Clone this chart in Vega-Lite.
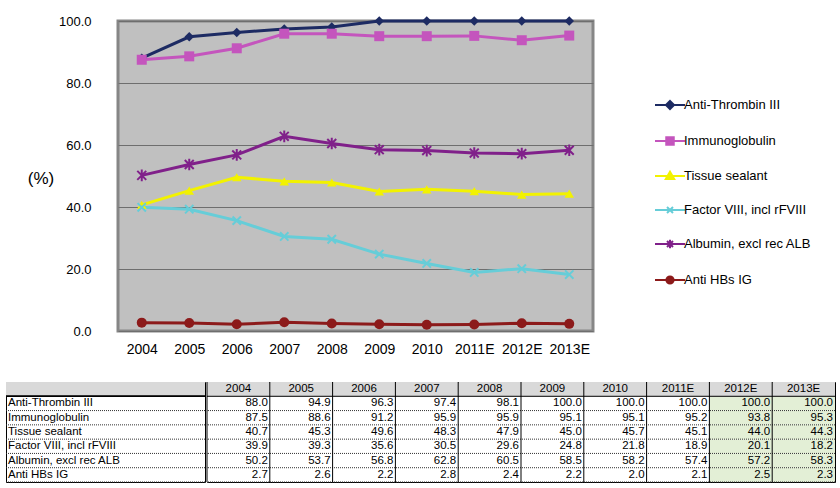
{
  "$schema": "https://vega.github.io/schema/vega-lite/v6.json",
  "padding": {"left": 5, "top": 13, "right": 0, "bottom": 0},
  "background": "white",
  "config": {"font": "Liberation Sans", "concat": {"spacing": 0}},
  "datasets": {
    "main": [
      {"series": "Anti-Thrombin III", "year": "2004", "value": 88.0},
      {"series": "Anti-Thrombin III", "year": "2005", "value": 94.9},
      {"series": "Anti-Thrombin III", "year": "2006", "value": 96.3},
      {"series": "Anti-Thrombin III", "year": "2007", "value": 97.4},
      {"series": "Anti-Thrombin III", "year": "2008", "value": 98.1},
      {"series": "Anti-Thrombin III", "year": "2009", "value": 100.0},
      {"series": "Anti-Thrombin III", "year": "2010", "value": 100.0},
      {"series": "Anti-Thrombin III", "year": "2011E", "value": 100.0},
      {"series": "Anti-Thrombin III", "year": "2012E", "value": 100.0},
      {"series": "Anti-Thrombin III", "year": "2013E", "value": 100.0},
      {"series": "Immunoglobulin", "year": "2004", "value": 87.5},
      {"series": "Immunoglobulin", "year": "2005", "value": 88.6},
      {"series": "Immunoglobulin", "year": "2006", "value": 91.2},
      {"series": "Immunoglobulin", "year": "2007", "value": 95.9},
      {"series": "Immunoglobulin", "year": "2008", "value": 95.9},
      {"series": "Immunoglobulin", "year": "2009", "value": 95.1},
      {"series": "Immunoglobulin", "year": "2010", "value": 95.1},
      {"series": "Immunoglobulin", "year": "2011E", "value": 95.2},
      {"series": "Immunoglobulin", "year": "2012E", "value": 93.8},
      {"series": "Immunoglobulin", "year": "2013E", "value": 95.3},
      {"series": "Tissue sealant", "year": "2004", "value": 40.7},
      {"series": "Tissue sealant", "year": "2005", "value": 45.3},
      {"series": "Tissue sealant", "year": "2006", "value": 49.6},
      {"series": "Tissue sealant", "year": "2007", "value": 48.3},
      {"series": "Tissue sealant", "year": "2008", "value": 47.9},
      {"series": "Tissue sealant", "year": "2009", "value": 45.0},
      {"series": "Tissue sealant", "year": "2010", "value": 45.7},
      {"series": "Tissue sealant", "year": "2011E", "value": 45.1},
      {"series": "Tissue sealant", "year": "2012E", "value": 44.0},
      {"series": "Tissue sealant", "year": "2013E", "value": 44.3},
      {"series": "Factor VIII, incl rFVIII", "year": "2004", "value": 39.9},
      {"series": "Factor VIII, incl rFVIII", "year": "2005", "value": 39.3},
      {"series": "Factor VIII, incl rFVIII", "year": "2006", "value": 35.6},
      {"series": "Factor VIII, incl rFVIII", "year": "2007", "value": 30.5},
      {"series": "Factor VIII, incl rFVIII", "year": "2008", "value": 29.6},
      {"series": "Factor VIII, incl rFVIII", "year": "2009", "value": 24.8},
      {"series": "Factor VIII, incl rFVIII", "year": "2010", "value": 21.8},
      {"series": "Factor VIII, incl rFVIII", "year": "2011E", "value": 18.9},
      {"series": "Factor VIII, incl rFVIII", "year": "2012E", "value": 20.1},
      {"series": "Factor VIII, incl rFVIII", "year": "2013E", "value": 18.2},
      {"series": "Albumin, excl rec ALB", "year": "2004", "value": 50.2},
      {"series": "Albumin, excl rec ALB", "year": "2005", "value": 53.7},
      {"series": "Albumin, excl rec ALB", "year": "2006", "value": 56.8},
      {"series": "Albumin, excl rec ALB", "year": "2007", "value": 62.8},
      {"series": "Albumin, excl rec ALB", "year": "2008", "value": 60.5},
      {"series": "Albumin, excl rec ALB", "year": "2009", "value": 58.5},
      {"series": "Albumin, excl rec ALB", "year": "2010", "value": 58.2},
      {"series": "Albumin, excl rec ALB", "year": "2011E", "value": 57.4},
      {"series": "Albumin, excl rec ALB", "year": "2012E", "value": 57.2},
      {"series": "Albumin, excl rec ALB", "year": "2013E", "value": 58.3},
      {"series": "Anti HBs IG", "year": "2004", "value": 2.7},
      {"series": "Anti HBs IG", "year": "2005", "value": 2.6},
      {"series": "Anti HBs IG", "year": "2006", "value": 2.2},
      {"series": "Anti HBs IG", "year": "2007", "value": 2.8},
      {"series": "Anti HBs IG", "year": "2008", "value": 2.4},
      {"series": "Anti HBs IG", "year": "2009", "value": 2.2},
      {"series": "Anti HBs IG", "year": "2010", "value": 2.0},
      {"series": "Anti HBs IG", "year": "2011E", "value": 2.1},
      {"series": "Anti HBs IG", "year": "2012E", "value": 2.5},
      {"series": "Anti HBs IG", "year": "2013E", "value": 2.3}
    ]
  },
  "spacing": 23,
  "vconcat": [
    {
      "spacing": 0,
      "bounds": "flush",
      "hconcat": [
        {
          "width": 112,
          "height": 310,
          "view": {"stroke": null},
          "data": {"values": [{"unit": "(%)"}]},
          "mark": {"type": "text", "fontSize": 17, "dx": -21, "dy": 3, "color": "#000", "baseline": "middle", "align": "center"},
          "encoding": {"text": {"field": "unit"}}
        },
        {
          "width": 475,
          "height": 310,
          "view": {"fill": "#c0c0c0", "stroke": "#868686", "strokeWidth": 3},
          "data": {"name": "main"},
          "encoding": {
            "x": {"field": "year", "type": "ordinal",
              "scale": {"type": "point", "padding": 0.5, "domain": ["2004","2005","2006","2007","2008","2009","2010","2011E","2012E","2013E"]},
              "axis": {"title": null, "labelAngle": 0, "labelFontSize": 14, "labelColor": "#000", "labelPadding": 11, "ticks": false, "tickSize": 0, "domain": false, "grid": false}},
            "y": {"field": "value", "type": "quantitative", "scale": {"domain": [0, 100], "nice": false},
              "axis": {"title": null, "values": [0, 20, 40, 60, 80, 100], "format": ".1f", "labelFontSize": 13, "labelColor": "#000", "labelPadding": 27,
                "ticks": false, "tickSize": 0, "domain": false, "gridColor": "#6e6e6e", "gridOpacity": 1}},
            "color": {"field": "series", "type": "nominal",
              "scale": {"domain": ["Anti-Thrombin III","Immunoglobulin","Tissue sealant","Factor VIII, incl rFVIII","Albumin, excl rec ALB","Anti HBs IG"],
                        "range": ["#1d2b63","#c455bd","#f2f200","#66cdd8","#80208a","#8c1a1a"]},
              "legend": {"title": null, "orient": "none", "legendX": 648, "legendY": 68, "labelFontSize": 13, "labelColor": "#000", "labelFont": "Liberation Sans",
                "symbolSize": 900, "rowPadding": 11, "padding": 0, "labelOffset": -2, "symbolStrokeWidth": 2}
            }
          },
          "layer": [
            {"mark": {"type": "line", "strokeWidth": 3}},
            {
              "transform": [{"filter": "datum.series === 'Anti-Thrombin III'"}],
              "mark": {"type": "point", "shape": "diamond", "filled": true, "size": 90, "opacity": 1}
            },
            {
              "transform": [{"filter": "datum.series === 'Immunoglobulin'"}],
              "mark": {"type": "point", "shape": "square", "filled": true, "size": 100, "opacity": 1}
            },
            {
              "transform": [{"filter": "datum.series === 'Tissue sealant'"}],
              "mark": {"type": "point", "shape": "triangle-up", "filled": true, "size": 90, "opacity": 1}
            },
            {
              "transform": [{"filter": "datum.series === 'Factor VIII, incl rFVIII'"}],
              "mark": {"type": "point", "shape": "M-1,-1L1,1M-1,1L1,-1", "filled": false, "size": 70, "strokeWidth": 2, "opacity": 1}
            },
            {
              "transform": [{"filter": "datum.series === 'Albumin, excl rec ALB'"}],
              "mark": {"type": "point", "shape": "M-1,-1L1,1M-1,1L1,-1M0,-1.3V1.3", "filled": false, "size": 80, "strokeWidth": 2, "opacity": 1}
            },
            {
              "transform": [{"filter": "datum.series === 'Anti HBs IG'"}],
              "mark": {"type": "point", "shape": "circle", "filled": true, "size": 100, "opacity": 1}
            },
            {
              "transform": [{"filter": "false"}],
              "mark": {"type": "point", "filled": false, "opacity": 1},
              "encoding": {
                "shape": {"field": "series", "type": "nominal",
                  "scale": {"domain": ["Anti-Thrombin III","Immunoglobulin","Tissue sealant","Factor VIII, incl rFVIII","Albumin, excl rec ALB","Anti HBs IG"],
                            "range": ["M-1,0H1M0,-0.27L0.27,0L0,0.27L-0.27,0Z","M-1,0H1M-0.25,-0.25H0.25V0.25H-0.25Z","M-1,0H1M0,-0.28L0.28,0.2L-0.28,0.2Z","M-1,0H1M-0.2,-0.2L0.2,0.2M-0.2,0.2L0.2,-0.2","M-1,0H1M-0.2,-0.2L0.2,0.2M-0.2,0.2L0.2,-0.2M0,-0.28V0.28","M-1,0H1M0.24,0A0.24,0.24,0,1,1,-0.24,0A0.24,0.24,0,1,1,0.24,0Z"]},
                  "legend": {"title": null, "orient": "none", "legendX": 648, "legendY": 68, "labelFontSize": 13, "labelColor": "#000", "labelFont": "Liberation Sans",
                    "symbolSize": 900, "rowPadding": 11, "padding": 0, "labelOffset": -2, "symbolStrokeWidth": 2}}
              }
            }
          ]
        }
      ]
    },
    {
      "spacing": 0,
      "hconcat": [
        {
          "width": 199,
          "height": 100,
          "view": {"stroke": "#000", "strokeWidth": 1, "fill": "white"},
          "data": {"name": "main"},
          "transform": [{"filter": "datum.year === '2004'"}],
          "layer": [
            {
              "mark": {"type": "rect", "fill": "#d9d9d9"},
              "encoding": {"y": {"datum": "H", "type": "nominal", "axis": null,
                "scale": {"domain": ["H","Anti-Thrombin III","Immunoglobulin","Tissue sealant","Factor VIII, incl rFVIII","Albumin, excl rec ALB","Anti HBs IG"], "paddingInner": 0, "paddingOuter": 0}}}
            },
            {
              "mark": {"type": "rule", "strokeDash": [1, 1], "color": "#333"},
              "encoding": {"y": {"field": "series", "type": "nominal", "bandPosition": 1, "axis": null}}
            },
            {
              "mark": {"type": "rule", "color": "#000"},
              "encoding": {"y": {"datum": "H", "type": "nominal", "bandPosition": 1, "axis": null}}
            },
            {
              "mark": {"type": "text", "align": "left", "baseline": "middle", "dx": 2, "fontSize": 11.5, "color": "#000"},
              "encoding": {
                "y": {"field": "series", "type": "nominal", "axis": null},
                "x": {"datum": 0, "type": "quantitative", "scale": {"domain": [0, 1]}, "axis": null},
                "text": {"field": "series"}
              }
            }
          ]
        },
        {
          "width": 628,
          "height": 100,
          "view": {"stroke": "#000", "strokeWidth": 1, "fill": "white"},
          "data": {"name": "main"},
          "layer": [
            {
              "mark": {"type": "rect"},
              "encoding": {
                "x": {"field": "year", "type": "ordinal", "axis": null,
                  "scale": {"type": "band", "domain": ["2004","2005","2006","2007","2008","2009","2010","2011E","2012E","2013E"], "paddingInner": 0, "paddingOuter": 0}},
                "y": {"field": "series", "type": "nominal", "axis": null,
                  "scale": {"domain": ["H","Anti-Thrombin III","Immunoglobulin","Tissue sealant","Factor VIII, incl rFVIII","Albumin, excl rec ALB","Anti HBs IG"], "paddingInner": 0, "paddingOuter": 0}},
                "fill": {"condition": {"test": "datum.year === '2012E' || datum.year === '2013E'", "value": "#e3efd6"}, "value": "white"}
              }
            },
            {
              "transform": [{"filter": "datum.series === 'Anti-Thrombin III'"}],
              "mark": {"type": "rect", "fill": "#d9d9d9"},
              "encoding": {
                "x": {"field": "year", "type": "ordinal", "axis": null},
                "y": {"datum": "H", "type": "nominal", "axis": null}
              }
            },
            {
              "transform": [{"filter": "datum.year === '2004'"}],
              "mark": {"type": "rule", "strokeDash": [1, 1], "color": "#333"},
              "encoding": {"y": {"field": "series", "type": "nominal", "bandPosition": 1, "axis": null}}
            },
            {
              "transform": [{"filter": "datum.year === '2004' && datum.series === 'Anti-Thrombin III'"}],
              "mark": {"type": "rule", "color": "#000"},
              "encoding": {"y": {"datum": "H", "type": "nominal", "bandPosition": 1, "axis": null}}
            },
            {
              "transform": [{"filter": "datum.series === 'Anti-Thrombin III'"}],
              "mark": {"type": "rule", "color": "#000"},
              "encoding": {"x": {"field": "year", "type": "ordinal", "bandPosition": 0, "axis": null}}
            },
            {
              "transform": [{"filter": "datum.series === 'Anti-Thrombin III'"}],
              "mark": {"type": "text", "align": "center", "baseline": "middle", "fontSize": 11.5, "color": "#000"},
              "encoding": {
                "x": {"field": "year", "type": "ordinal", "axis": null},
                "y": {"datum": "H", "type": "nominal", "axis": null},
                "text": {"field": "year"}
              }
            },
            {
              "mark": {"type": "text", "align": "right", "baseline": "middle", "dx": -2, "fontSize": 11.5, "color": "#000"},
              "encoding": {
                "x": {"field": "year", "type": "ordinal", "bandPosition": 1, "axis": null},
                "y": {"field": "series", "type": "nominal", "axis": null},
                "text": {"field": "value", "type": "quantitative", "format": ".1f"}
              }
            }
          ]
        }
      ]
    }
  ]
}
